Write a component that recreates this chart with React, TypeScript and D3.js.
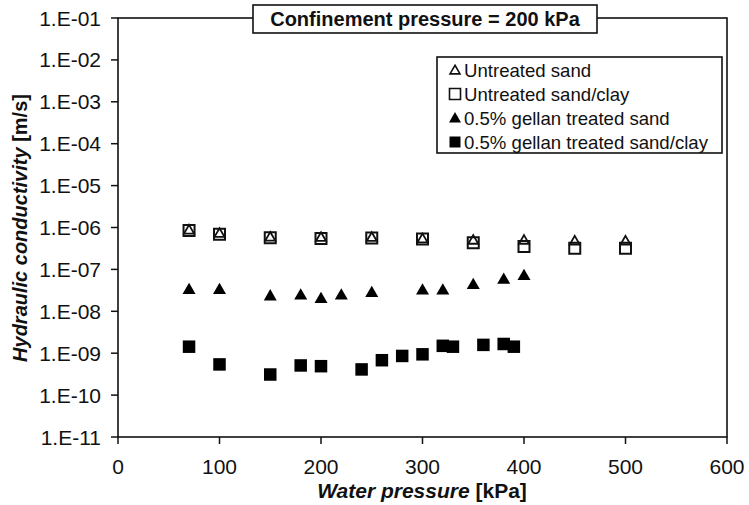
import React from "react";
import * as d3 from "d3";

const xTicks = [0, 100, 200, 300, 400, 500, 600];
const yTickExps = [-1, -2, -3, -4, -5, -6, -7, -8, -9, -10, -11];

const sandX = [70, 100, 150, 200, 250, 300, 350, 400, 450, 500];
const sandK = [8.4e-7, 7.0e-7, 5.7e-7, 5.6e-7, 5.6e-7, 5.2e-7, 4.8e-7, 4.8e-7, 4.6e-7, 4.6e-7];

const sandClayX = [70, 100, 150, 200, 250, 300, 350, 400, 450, 500];
const sandClayK = [8.5e-7, 6.9e-7, 5.7e-7, 5.5e-7, 5.6e-7, 5.3e-7, 4.3e-7, 3.5e-7, 3.2e-7, 3.2e-7];

const gellanSandX = [70, 100, 150, 180, 200, 220, 250, 300, 320, 350, 380, 400];
const gellanSandK = [3.2e-8, 3.2e-8, 2.24e-8, 2.36e-8, 1.93e-8, 2.36e-8, 2.7e-8, 3.1e-8, 3.1e-8, 4.2e-8, 5.6e-8, 6.9e-8];

const gellanClayX = [70, 100, 150, 180, 200, 240, 260, 280, 300, 320, 330, 360, 380, 390];
const gellanClayK = [1.43e-9, 5.4e-10, 3.1e-10, 5.1e-10, 4.9e-10, 4.1e-10, 6.8e-10, 8.6e-10, 9.4e-10, 1.5e-9, 1.43e-9, 1.58e-9, 1.66e-9, 1.43e-9];

const legendLabels = [
  "Untreated sand",
  "Untreated sand/clay",
  "0.5% gellan treated sand",
  "0.5% gellan treated sand/clay",
];

const W = 749;
const H = 505;
const L = 118, R = 727, T = 18, B = 437;

const xScale = d3.scaleLinear().domain([0, 600]).range([L, R]);
const yScale = d3.scaleLog().domain([1e-11, 1e-1]).range([B, T]);

const tri = (side: number) => d3.symbol(d3.symbolTriangle, (Math.sqrt(3) / 4) * side * side)() as string;
const sq = (side: number) => d3.symbol(d3.symbolSquare, side * side)() as string;

const FONT = "'Liberation Sans', Arial, sans-serif";

function fmtExp(e: number) {
  const a = Math.abs(e);
  return `1.E-${a < 10 ? "0" + a : a}`;
}

export default function App() {
  const openSq = sq(11);
  const openTri = tri(10);
  const fillTri = tri(13);
  const fillSq = sq(12.5);
  return (
    <svg width={W} height={H} style={{ display: "block", position: "absolute", left: 0, top: 0 }} fontFamily={FONT}>
      <rect x={0} y={0} width={W} height={H} fill="#fff" />
      {/* frame */}
      <rect x={L} y={T} width={R - L} height={B - T} fill="none" stroke="#111" strokeWidth={1.6} />
      {/* y ticks */}
      {yTickExps.map((e) => {
        const y = yScale(Math.pow(10, e));
        return (
          <g key={e}>
            <line x1={L - 7} x2={L} y1={y} y2={y} stroke="#111" strokeWidth={1.5} />
            <text x={101} y={y + 7.5} textAnchor="end" fontSize={21} fill="#111">{fmtExp(e)}</text>
          </g>
        );
      })}
      {/* x ticks */}
      {xTicks.map((v) => {
        const x = xScale(v);
        return (
          <g key={v}>
            <line x1={x} x2={x} y1={B} y2={B + 7} stroke="#111" strokeWidth={1.5} />
            <text x={x} y={474} textAnchor="middle" fontSize={21} fill="#111">{v}</text>
          </g>
        );
      })}
      {/* axis titles */}
      <text x={422} y={498} textAnchor="middle" fontSize={21} fontWeight="bold" fill="#111">
        <tspan fontStyle="italic">Water pressure</tspan> [kPa]
      </text>
      <text transform={`translate(27,228) rotate(-90)`} textAnchor="middle" fontSize={20} fontWeight="bold" fill="#111">
        <tspan fontStyle="italic">Hydraulic conductivity</tspan> [m/s]
      </text>
      {/* data */}
      {sandClayX.map((x, i) => (
        <path key={"sc" + i} d={openSq} transform={`translate(${xScale(x)},${yScale(sandClayK[i])})`} fill="#fff" stroke="#111" strokeWidth={2} />
      ))}
      {sandX.map((x, i) => (
        <path key={"s" + i} d={openTri} transform={`translate(${xScale(x)},${yScale(sandK[i])})`} fill="none" stroke="#111" strokeWidth={1.8} />
      ))}
      {gellanSandX.map((x, i) => (
        <path key={"gs" + i} d={fillTri} transform={`translate(${xScale(x)},${yScale(gellanSandK[i])})`} fill="#000" />
      ))}
      {gellanClayX.map((x, i) => (
        <path key={"gc" + i} d={fillSq} transform={`translate(${xScale(x)},${yScale(gellanClayK[i])})`} fill="#000" />
      ))}
      {/* title box */}
      <rect x={253} y={5} width={344} height={28} fill="#fff" stroke="#111" strokeWidth={1.6} />
      <text x={425} y={26} textAnchor="middle" fontSize={20} fontWeight="bold" fill="#111">Confinement pressure = 200 kPa</text>
      {/* legend */}
      <rect x={437} y={57} width={285} height={96} fill="#fff" stroke="#111" strokeWidth={1.6} />
      {legendLabels.map((lab, i) => {
        const cy = 70 + i * 24;
        let mark;
        if (i === 0) mark = <path d={tri(10)} transform={`translate(455,${cy + 1})`} fill="none" stroke="#111" strokeWidth={1.6} />;
        else if (i === 1) mark = <path d={sq(11)} transform={`translate(455,${cy})`} fill="none" stroke="#111" strokeWidth={1.6} />;
        else if (i === 2) mark = <path d={tri(12)} transform={`translate(455,${cy + 1})`} fill="#000" />;
        else mark = <path d={sq(11)} transform={`translate(455,${cy})`} fill="#000" />;
        return (
          <g key={lab}>
            {mark}
            <text x={464} y={cy + 6.5} fontSize={18.6} fill="#111">{lab}</text>
          </g>
        );
      })}
    </svg>
  );
}
